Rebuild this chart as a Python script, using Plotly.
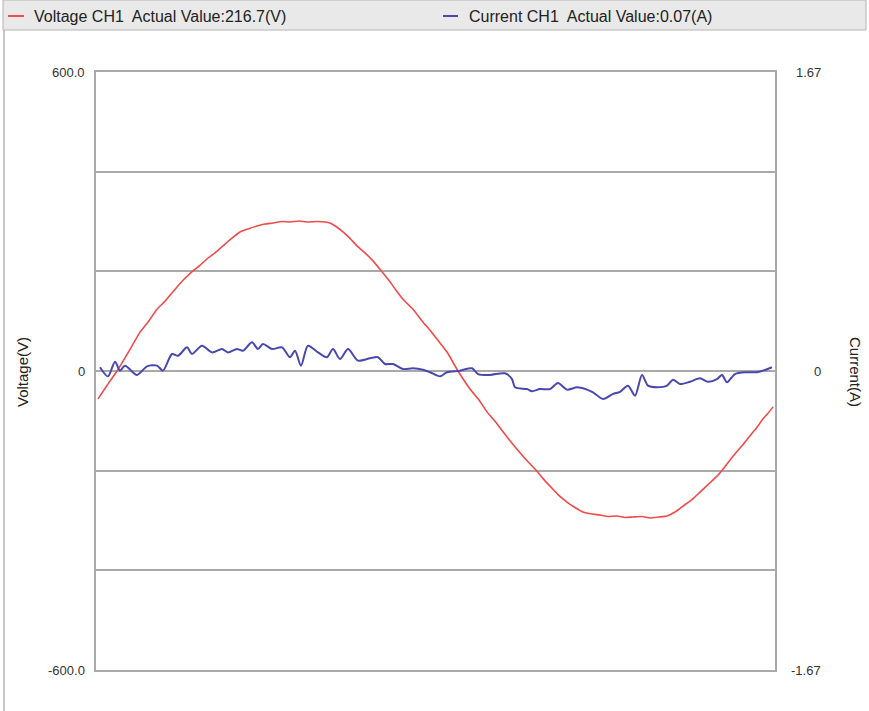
import plotly.graph_objects as go

# ---- data ----
v_time = [2, 11, 21, 33, 44, 53, 61, 69, 77, 87, 97, 104, 111, 119, 127, 135, 144, 152, 161, 169,
          177, 186, 194, 203, 211, 222, 234, 240, 247, 254, 261, 269, 277, 286, 294, 300, 307, 317,
          327, 334, 341, 351, 362, 374, 383, 391, 399, 407, 414, 421, 431, 441, 447, 454, 462, 471,
          479, 487, 496, 504, 512, 521, 529, 537, 546, 554, 563, 571, 579, 587, 596, 604, 612, 621,
          629, 637, 646, 654, 661, 667, 672, 677]
voltage = [-56, -29, 0, 40, 78, 101, 124, 140, 159, 182, 201, 212, 225, 237, 251, 265, 279, 285, 291, 295,
           297, 300, 299, 301, 299, 300, 297, 290, 279, 266, 251, 237, 221, 199, 179, 162, 144, 124,
           98, 82, 64, 38, 0, -36, -58, -82, -101, -122, -140, -157, -180, -201, -216, -231, -248, -263,
           -274, -283, -287, -289, -292, -291, -294, -293, -292, -295, -293, -291, -283, -271, -258, -243, -228, -211,
           -192, -171, -150, -130, -113, -96, -85, -72]

i_time = [4, 12, 19, 24, 29, 41, 51, 61, 67, 76, 82, 91, 96, 106, 116, 126, 132, 141, 147, 156,
          162, 167, 176, 186, 194, 199, 205, 212, 222, 231, 237, 244, 252, 262, 274, 282, 289, 297,
          307, 317, 327, 334, 344, 351, 364, 376, 382, 394, 409, 416, 419, 431, 436, 444, 454, 462,
          471, 481, 491, 497, 507, 517, 524, 532, 539, 546, 552, 561, 571, 577, 584, 594, 604, 612,
          621, 626, 631, 639, 651, 661, 667, 676]
current = [0.021, -0.030, 0.052, 0.002, 0.030, -0.022, 0.026, 0.030, 0.002, 0.095, 0.085, 0.132, 0.095,
           0.141, 0.104, 0.123, 0.104, 0.123, 0.113, 0.160, 0.123, 0.151, 0.123, 0.132, 0.077, 0.113,
           0.030, 0.141, 0.104, 0.077, 0.123, 0.067, 0.123, 0.058, 0.071, 0.077, 0.039, 0.039, 0.011,
           0.015, 0.007, -0.007, -0.030, -0.007, 0.002, 0.015, -0.017, -0.022, -0.013, -0.045, -0.091,
           -0.101, -0.113, -0.101, -0.101, -0.067, -0.104, -0.091, -0.104, -0.119, -0.156, -0.128, -0.116,
           -0.082, -0.138, -0.022, -0.082, -0.091, -0.082, -0.049, -0.073, -0.060, -0.041, -0.060, -0.045,
           -0.022, -0.063, -0.017, -0.007, -0.007, 0.002, 0.021]

v_ticks = [-600, -400, -200, 0, 200, 400, 600]
v_labels = ["-600.0", "0", "600.0"]
v_label_vals = [-600, 0, 600]
i_labels = ["-1.67", "0", "1.67"]
i_label_vals = [-1.67, 0, 1.67]

legend_texts = ["Voltage CH1  Actual Value:216.7(V)", "Current CH1  Actual Value:0.07(A)"]

RED = "#f04a4a"
BLUE = "#4848b0"
GRID = "#a9a9a9"
FONT = "Liberation Sans"

W, H = 869, 711
L, R, T, B = 96, 775, 72, 670  # plot area in pixels


def px(x):
    return (x - L) / (R - L)


def py(y):
    return (B - y) / (B - T)


fig = go.Figure()
fig.add_trace(go.Scatter(x=v_time, y=voltage, mode="lines",
                         line=dict(color=RED, width=1.6, shape="spline", smoothing=0.5),
                         yaxis="y", showlegend=False))
fig.add_trace(go.Scatter(x=i_time, y=current, mode="lines",
                         line=dict(color=BLUE, width=2, shape="spline", smoothing=0.8),
                         yaxis="y2", showlegend=False))

shapes = [
    # legend header bar
    dict(type="rect", xref="paper", yref="paper", x0=px(3), x1=px(866), y0=py(30), y1=py(0),
         fillcolor="#e9e9e9", line=dict(color="#b4b4b4", width=1), layer="below"),
    # window left frame line
    dict(type="line", xref="paper", yref="paper", x0=px(4), x1=px(4), y0=py(30), y1=py(711),
         line=dict(color="#b4b4b4", width=1.5)),
    # legend samples
    dict(type="line", xref="paper", yref="paper", x0=px(8), x1=px(24), y0=py(16), y1=py(16),
         line=dict(color=RED, width=2)),
    dict(type="line", xref="paper", yref="paper", x0=px(443), x1=px(458), y0=py(16), y1=py(16),
         line=dict(color=BLUE, width=2)),
]

annotations = [
    dict(xref="paper", yref="paper", x=px(32), y=py(16), xanchor="left", yanchor="middle",
         text=legend_texts[0], showarrow=False, font=dict(family=FONT, size=16, color="#222")),
    dict(xref="paper", yref="paper", x=px(467), y=py(16), xanchor="left", yanchor="middle",
         text=legend_texts[1], showarrow=False, font=dict(family=FONT, size=16, color="#222")),
    dict(xref="paper", yref="paper", x=px(22), y=py(372), xanchor="center", yanchor="middle",
         text="Voltage(V)", textangle=-90, showarrow=False,
         font=dict(family=FONT, size=15, color="#222")),
    dict(xref="paper", yref="paper", x=px(856), y=py(372), xanchor="center", yanchor="middle",
         text="Current(A)", textangle=90, showarrow=False,
         font=dict(family=FONT, size=15, color="#222")),
]
for val, lab in zip(v_label_vals, v_labels):
    annotations.append(dict(xref="paper", yref="y", x=px(87), y=val, xanchor="right",
                            yanchor="middle", text=lab, showarrow=False,
                            font=dict(family=FONT, size=13, color="#333")))
for val, lab in zip(i_label_vals, i_labels):
    annotations.append(dict(xref="paper", yref="y2", x=px(823), y=val, xanchor="right",
                            yanchor="middle", text=lab, showarrow=False,
                            font=dict(family=FONT, size=13, color="#333")))

fig.update_layout(
    width=W, height=H,
    margin=dict(l=L, r=W - R, t=T, b=H - B, pad=0),
    paper_bgcolor="white", plot_bgcolor="white",
    shapes=shapes, annotations=annotations,
    xaxis=dict(range=[0, R - L], showgrid=False, zeroline=False, showticklabels=False,
               ticks="", showline=True, mirror=True, linecolor=GRID, linewidth=1.5),
    yaxis=dict(range=[-600, 600], tickvals=v_ticks, showticklabels=False, ticks="",
               showgrid=True, gridcolor=GRID, gridwidth=1.5, zeroline=False,
               showline=True, mirror=True, linecolor=GRID, linewidth=1.5),
    yaxis2=dict(range=[-1.67, 1.67], overlaying="y", side="right", showgrid=False,
                zeroline=False, showticklabels=False, ticks="", showline=False),
    showlegend=False,
)

fig.write_html("out.html")
